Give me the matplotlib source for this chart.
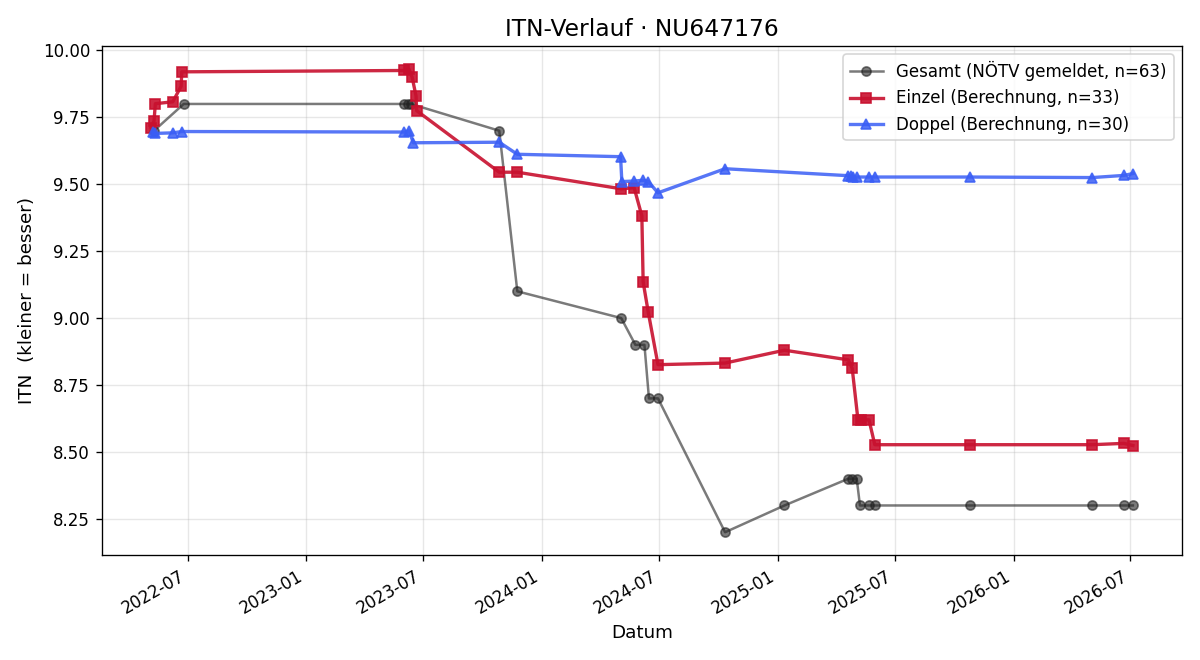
import matplotlib
matplotlib.use("Agg")
import matplotlib.pyplot as plt
import matplotlib.dates as mdates
import pandas as pd

gesamt_dates = ["2022-05-10", "2022-06-25", "2023-06-02", "2023-06-07", "2023-06-12",
                "2023-10-27", "2023-11-24", "2024-05-03", "2024-05-25", "2024-06-08",
                "2024-06-15", "2024-06-29", "2024-10-11", "2025-01-11", "2025-04-20",
                "2025-04-26", "2025-05-03", "2025-05-08", "2025-05-22", "2025-05-31",
                "2025-10-25", "2026-05-03", "2026-06-21", "2026-07-05"]
gesamt_vals = [9.70, 9.80, 9.80, 9.80, 9.80,
               9.70, 9.10, 9.00, 8.90, 8.90,
               8.70, 8.70, 8.20, 8.30, 8.40,
               8.40, 8.40, 8.30, 8.30, 8.30,
               8.30, 8.30, 8.30, 8.30]

einzel_dates = ["2022-05-05", "2022-05-10", "2022-05-12", "2022-06-08", "2022-06-21",
                "2022-06-22", "2023-06-02", "2023-06-09", "2023-06-14", "2023-06-20",
                "2023-06-21", "2023-10-27", "2023-11-24", "2024-05-03", "2024-05-23",
                "2024-06-04", "2024-06-06", "2024-06-14", "2024-06-29", "2024-10-11",
                "2025-01-11", "2025-04-20", "2025-04-26", "2025-05-05", "2025-05-10",
                "2025-05-22", "2025-05-31", "2025-10-25", "2026-05-03", "2026-06-21",
                "2026-07-05"]
einzel_vals = [9.712, 9.736, 9.801, 9.808, 9.866,
               9.920, 9.925, 9.930, 9.900, 9.830,
               9.775, 9.545, 9.545, 9.483, 9.487,
               9.382, 9.135, 9.021, 8.826, 8.832,
               8.880, 8.844, 8.812, 8.618, 8.620,
               8.620, 8.527, 8.527, 8.527, 8.532,
               8.524]

doppel_dates = ["2022-05-08", "2022-05-12", "2022-06-08", "2022-06-22", "2023-06-02",
                "2023-06-09", "2023-06-16", "2023-10-27", "2023-11-24", "2024-05-02",
                "2024-05-04", "2024-05-23", "2024-06-06", "2024-06-14", "2024-06-29",
                "2024-10-11", "2025-04-20", "2025-04-24", "2025-04-28", "2025-05-03",
                "2025-05-22", "2025-05-31", "2025-10-25", "2026-05-03", "2026-06-21",
                "2026-07-05"]
doppel_vals = [9.695, 9.690, 9.692, 9.697, 9.695,
               9.700, 9.655, 9.657, 9.612, 9.603,
               9.510, 9.512, 9.515, 9.510, 9.468,
               9.558, 9.532, 9.530, 9.528, 9.527,
               9.527, 9.527, 9.527, 9.525, 9.533,
               9.540]

fig, ax = plt.subplots(figsize=(10, 5.5), dpi=120)

ax.plot(pd.to_datetime(gesamt_dates), gesamt_vals, marker="o", color="#222222",
        alpha=0.6, linewidth=1.5, markersize=5.5, label="Gesamt (NÖTV gemeldet, n=63)")
ax.plot(pd.to_datetime(einzel_dates), einzel_vals, marker="s", color="#c8102e",
        alpha=0.9, linewidth=2, markersize=6.5, label="Einzel (Berechnung, n=33)")
ax.plot(pd.to_datetime(doppel_dates), doppel_vals, marker="^", color="#3a5ef5",
        alpha=0.85, linewidth=2, markersize=6.5, label="Doppel (Berechnung, n=30)")

ax.set_title("ITN-Verlauf · NU647176", fontsize=14)
ax.set_xlabel("Datum", fontsize=11)
ax.set_ylabel("ITN  (kleiner = besser)", fontsize=11)
ax.grid(True, alpha=0.3)
ax.xaxis.set_major_locator(mdates.MonthLocator(bymonth=[1, 7]))
ax.xaxis.set_major_formatter(mdates.DateFormatter("%Y-%m"))
ax.legend(loc="upper right", fontsize=10)
fig.autofmt_xdate()
fig.tight_layout()
fig.savefig("out.png")
